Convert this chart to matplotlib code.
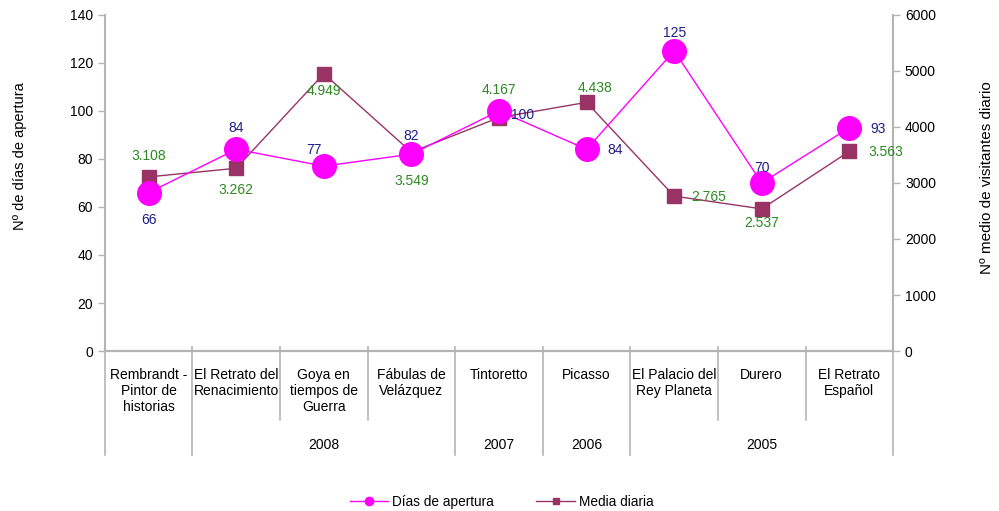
import matplotlib
matplotlib.use("Agg")
import matplotlib.pyplot as plt
import matplotlib.transforms as mtransforms
from matplotlib.lines import Line2D

plt.rcParams['font.family'] = ['Liberation Sans', 'DejaVu Sans']

# exhibitions, years and the two series
exposiciones = ["Rembrandt -\nPintor de\nhistorias", "El Retrato del\nRenacimiento",
                "Goya en\ntiempos de\nGuerra", "Fábulas de\nVelázquez", "Tintoretto",
                "Picasso", "El Palacio del\nRey Planeta", "Durero", "El Retrato\nEspañol"]
anios = ["", "2008", "2007", "2006", "2005"]
grupos = [(0, 0), (1, 3), (4, 4), (5, 5), (6, 8)]  # first/last category of each year
dias = [66, 84, 77, 82, 100, 84, 125, 70, 93]
media = [3108, 3262, 4949, 3549, 4167, 4438, 2765, 2537, 3563]
media_txt = ["3.108", "3.262", "4.949", "3.549", "4.167", "4.438", "2.765", "2.537", "3.563"]

# label offsets in pixels (dx, dy)
off_dias = [(0, -27), (0, 21), (-10, 16), (0, 18), (24, -4), (29, -1), (0, 18), (0, 15), (29, -1)]
off_media = [(0, 21), (0, -22), (0, -17), (0, -29), (0, 28), (8, 14), (35, -1), (0, -14), (36, -1)]

GRIS = "#b4b4b4"
AZUL = "#1e1e8c"
VERDE = "#2a8a1f"

fig = plt.figure(figsize=(9.99, 5.11), dpi=100)
ax = fig.add_axes([0.105, 0.313, 0.789, 0.658])
ax2 = ax.twinx()

x = list(range(len(dias)))
ax.plot(x, dias, color="#ff00ff", lw=1.0, marker="o", ms=17, zorder=3)
ax2.plot(x, media, color="#993366", lw=1.0, marker="s", ms=10, zorder=3)

ax.set_xlim(-0.5, 8.5)
ax.set_ylim(0, 140)
ax2.set_ylim(0, 6000)
ax.set_yticks(range(0, 141, 20))
ax2.set_yticks(range(0, 6001, 1000))
ax.set_xticks([])

for a in (ax, ax2):
    for s in a.spines.values():
        s.set_color(GRIS)
        s.set_linewidth(1.5)
    a.spines["top"].set_visible(False)
    a.tick_params(axis="y", colors=GRIS, labelcolor="black", labelsize=10, length=5, width=1)
ax.spines["right"].set_visible(False)
ax2.spines["left"].set_visible(False)
ax.set_zorder(ax2.get_zorder() + 1)
ax.patch.set_visible(False)

ax.set_ylabel("Nº de días de apertura", fontsize=10.5)
ax.yaxis.set_label_coords(-0.099, 0.58)
ax2.set_ylabel("Nº medio de visitantes diario", fontsize=11)
ax2.yaxis.set_label_coords(1.110, 0.515)

for i, v in enumerate(dias):
    ax.annotate(str(v), (i, v), xytext=off_dias[i], textcoords="offset pixels",
                ha="center", va="center", color=AZUL, fontsize=10, zorder=5)
for i, v in enumerate(media):
    ax2.annotate(media_txt[i], (i, v), xytext=off_media[i], textcoords="offset pixels",
                 ha="center", va="center", color=VERDE, fontsize=10, zorder=5)

# multi-level category axis
trans = mtransforms.blended_transform_factory(ax.transData, ax.transAxes)
for i, nombre in enumerate(exposiciones):
    ax.text(i, -0.05, nombre, transform=trans, ha="center", va="top",
            fontsize=10, linespacing=1.2)
bordes_grupo = set()
for (a0, a1), anio in zip(grupos, anios):
    bordes_grupo.add(a0 - 0.5)
    bordes_grupo.add(a1 + 0.5)
    ax.text((a0 + a1) / 2, -0.28, anio, transform=trans, ha="center", va="center", fontsize=10)
for k in range(len(exposiciones) + 1):
    b = k - 0.5
    y_fin = -0.31 if b in bordes_grupo else -0.205
    ax.add_line(Line2D([b, b], [0.012, y_fin], transform=trans, color=GRIS,
                       lw=1.2, clip_on=False))

handles = [Line2D([], [], color="#ff00ff", lw=1.0, marker="o", ms=6),
           Line2D([], [], color="#993366", lw=1.0, marker="s", ms=5)]
fig.legend(handles, ["Días de apertura", "Media diaria"], loc="center",
           bbox_to_anchor=(0.502, 0.018), ncol=2, frameon=False, fontsize=9.8,
           handlelength=2.8, columnspacing=3.15, handletextpad=0.3)

fig.savefig("out.png", dpi=100)
